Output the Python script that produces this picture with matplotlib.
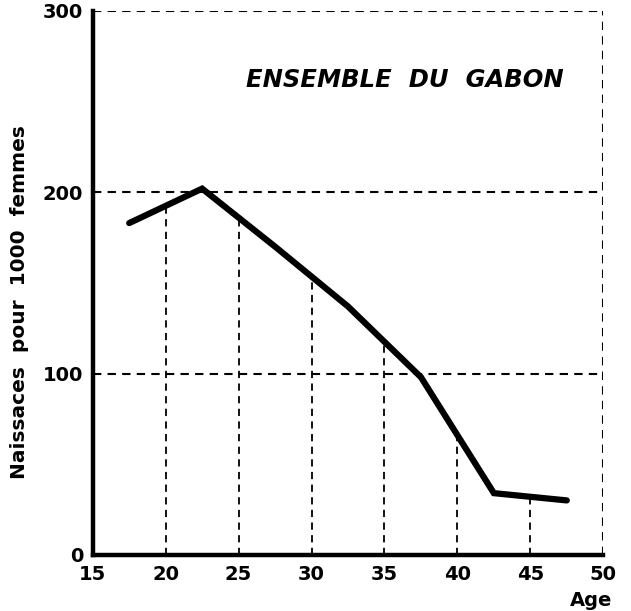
import numpy as np
import matplotlib.pyplot as plt

# Taux de fecondite par groupe d'age (ensemble du Gabon)
ages = [17.5, 22.5, 27.5, 32.5, 37.5, 42.5, 47.5]
naissances = [183, 202, 170, 137, 98, 34, 30]

x_ticks = [15, 20, 25, 30, 35, 40, 45, 50]
y_ticks = [0, 100, 200, 300]
drop_ages = [20, 25, 30, 35, 40, 45]

fig = plt.figure(figsize=(6.31, 6.11), dpi=100)
ax = fig.add_axes([0.147, 0.092, 0.809, 0.89])

dash = (0, (4, 3))

# horizontal dashed grid lines and dashed frame
ax.hlines([100, 200, 300], 15, 50, colors='black', linewidth=1.5, linestyle=dash)
ax.vlines(50, 0, 300, colors='black', linewidth=1.5, linestyle=dash)

# vertical drops from the x axis up to the curve
tops = np.interp(drop_ages, ages, naissances)
ax.vlines(drop_ages, 0, tops, colors='black', linewidth=1.3, linestyle=dash)

ax.plot(ages, naissances, color='black', linewidth=4.5, solid_capstyle='round',
        solid_joinstyle='miter')

ax.set_xlim(15, 50)
ax.set_ylim(0, 300)
ax.set_xticks(x_ticks)
ax.set_yticks(y_ticks)
ax.tick_params(length=0, labelsize=14)
ax.tick_params(axis='x', pad=7)
ax.tick_params(axis='y', pad=7)
for lab in ax.get_xticklabels() + ax.get_yticklabels():
    lab.set_fontweight('bold')

ax.spines['top'].set_visible(False)
ax.spines['right'].set_visible(False)
ax.spines['left'].set_linewidth(3.2)
ax.spines['bottom'].set_linewidth(3.2)

ax.text(36.4, 262, 'ENSEMBLE  DU  GABON', ha='center', va='center',
        fontsize=17.5, fontweight='bold', fontstyle='italic')

fig.text(20 / 631, 1 - 302 / 611, 'Naissaces  pour  1000  femmes', rotation=90,
         ha='center', va='center', fontsize=14.5, fontweight='bold')
fig.text(591 / 631, 1 - 600 / 611, 'Age', ha='center', va='center',
         fontsize=14, fontweight='bold')

fig.savefig('out.png', dpi=100)
